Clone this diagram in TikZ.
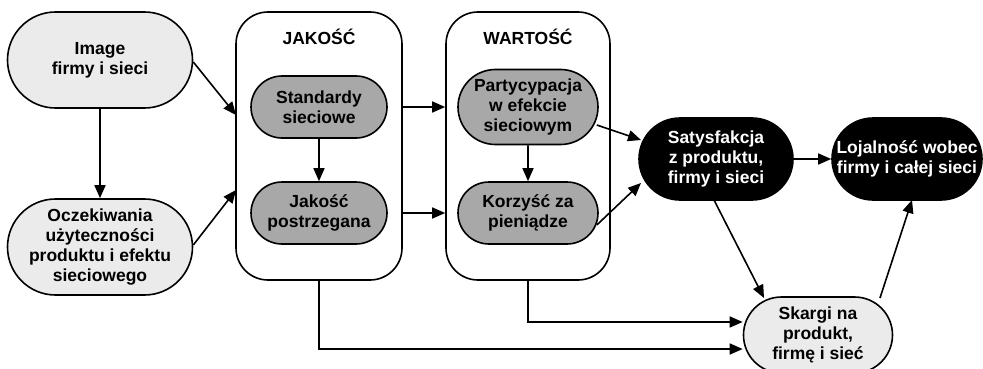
\documentclass[tikz,border=0pt]{standalone}
\usepackage{fontspec}
\setmainfont{Liberation Sans}
\usetikzlibrary{arrows.meta,shapes.misc,calc}
\definecolor{lightg}{HTML}{EBEBEB}
\definecolor{midg}{HTML}{A8A8A8}
\tikzset{
  x=1pt,y=-1pt,
  base/.style={rounded rectangle, draw=black, line width=1.6pt, align=center,
    font=\bfseries\fontsize{17.5}{20.3}\selectfont, inner sep=0pt},
  lightbox/.style={base, fill=lightg},
  graybox/.style={base, fill=midg},
  blackbox/.style={base, fill=black, text=white},
  container/.style={draw=black, line width=1.6pt, rounded corners=32pt, inner sep=0pt},
  arr/.style={line width=1.6pt, -{Triangle[length=13pt,width=11pt]}},
  title/.style={font=\bfseries\fontsize{17.5}{20.3}\selectfont}
}
\begin{document}
\begin{tikzpicture}
\useasboundingbox (0,0) rectangle (983,369);
% left
\node[lightbox, minimum width=185pt, minimum height=96pt] (img) at (100,60) {Image\\firmy i sieci};
\node[lightbox, minimum width=185pt, minimum height=96pt] (ocz) at (100,247) {Oczekiwania\\użyteczności\\produktu i efektu\\sieciowego};
% containers
\node[container, minimum width=166pt, minimum height=268pt] (jak) at (319,146) {};
\node[title] (jakt) at (319,37) {JAKOŚĆ};
\node[container, minimum width=164pt, minimum height=268pt] (war) at (528,146) {};
\node[title] (wart) at (528,37) {WARTOŚĆ};
% inner
\node[graybox, minimum width=136pt, minimum height=62pt] (std) at (319,107) {Standardy\\sieciowe};
\node[graybox, minimum width=136pt, minimum height=62pt] (jp) at (319,213) {Jakość\\postrzegana};
\node[graybox, minimum width=140pt, minimum height=75pt] (par) at (528,107) {Partycypacja\\w efekcie\\sieciowym};
\node[graybox, minimum width=140pt, minimum height=62pt] (kor) at (528,213) {Korzyść za\\pieniądze};
% right
\node[blackbox, minimum width=154pt, minimum height=82pt] (sat) at (716,159) {Satysfakcja\\z produktu,\\firmy i sieci};
\node[blackbox, minimum width=150pt, minimum height=82pt] (loj) at (907,159) {Lojalność wobec\\firmy i całej sieci};
\node[lightbox, minimum width=149pt, minimum height=76pt] (skg) at (818,335) {Skargi na\\produkt,\\firmę i sieć};
% coordinates
\coordinate (imgA) at ($(img.east)+(0,2)$);
\coordinate (oczA) at ($(ocz.east)+(0,-2)$);
\coordinate (jakA) at (236,115);
\coordinate (jakB) at (236,190);
\coordinate (parA) at ($(par.east)+(-2,18)$);
\coordinate (korA) at ($(kor.east)+(-2,12)$);
\coordinate (satA) at (641,140);
\coordinate (satB) at (641,183);
\coordinate (satS) at (714,200);
\coordinate (skgN) at (764,298);
\coordinate (skgE) at (880,298);
\coordinate (lojS) at (912,200);
% arrows
\draw[arr] (img) -- (ocz);
\draw[arr] (imgA) -- (jakA);
\draw[arr] (oczA) -- (jakB);
\draw[arr] (std) -- (jp);
\draw[arr] (par) -- (kor);
\draw[arr] (jak.east |- std) -- (war.west |- std);
\draw[arr] (jak.east |- jp) -- (war.west |- jp);
\draw[arr] (parA) -- (satA);
\draw[arr] (korA) -- (satB);
\draw[arr] (sat) -- (loj);
\draw[arr] (satS) -- (skgN);
\draw[arr] (skgE) -- (lojS);
\draw[arr] (war.south) -- (war.south |- 0,322) -- (skg.west |- 0,322);
\draw[arr] (jak.south) -- (jak.south |- 0,349) -- (skg.west |- 0,349);
\end{tikzpicture}
\end{document}
